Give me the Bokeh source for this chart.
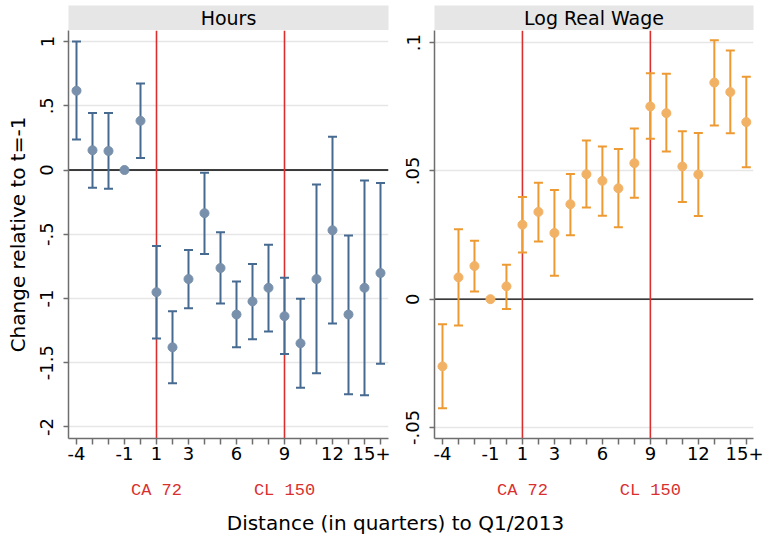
import math
from bokeh.plotting import figure
from bokeh.layouts import column, row
from bokeh.models import FixedTicker, Span, Label, LinearAxis, Range1d, ColumnDataSource
from bokeh.embed import file_html
from bokeh.resources import INLINE

nan = float("nan")

# Event-study coefficients by quarter relative to Q1/2013 (t = -1 is the omitted base)
quarters = list(range(-4, 16))

hours_est = [0.617, 0.154, 0.148, 0.0, 0.383, -0.951, -1.380, -0.849, -0.336, -0.763,
             -1.125, -1.023, -0.917, -1.138, -1.349, -0.849, -0.469, -1.125, -0.917, -0.802]
hours_lo = [0.237, -0.138, -0.146, nan, 0.094, -1.312, -1.659, -1.076, -0.654, -1.039,
            -1.380, -1.318, -1.258, -1.432, -1.695, -1.583, -1.195, -1.745, -1.753, -1.508]
hours_hi = [1.000, 0.443, 0.443, nan, 0.674, -0.591, -1.099, -0.623, -0.021, -0.484,
            -0.867, -0.732, -0.581, -0.839, -1.003, -0.112, 0.258, -0.510, -0.081, -0.102]

wage_est = [-0.0262, 0.0085, 0.0129, 0.0, 0.0050, 0.0290, 0.0340, 0.0258, 0.0370, 0.0487,
            0.0461, 0.0432, 0.0530, 0.0751, 0.0725, 0.0517, 0.0486, 0.0844, 0.0807, 0.0690]
wage_lo = [-0.0425, -0.0103, 0.0030, nan, -0.0038, 0.0182, 0.0225, 0.0091, 0.0249, 0.0357,
           0.0325, 0.0280, 0.0395, 0.0625, 0.0575, 0.0379, 0.0324, 0.0677, 0.0647, 0.0514]
wage_hi = [-0.0098, 0.0272, 0.0228, nan, 0.0134, 0.0398, 0.0454, 0.0425, 0.0488, 0.0618,
           0.0595, 0.0585, 0.0665, 0.0880, 0.0878, 0.0654, 0.0648, 0.1009, 0.0969, 0.0867]

# x-axis tick labels (every quarter gets a tick, only some are labelled)
x_labels = {-4: "-4", -1: "-1", 1: "1", 3: "3", 6: "6", 9: "9", 12: "12", 15: "15+"}

# policy events marked with vertical lines
events = [1, 9]
event_labels = ["CA 72", "CL 150"]

hours_ticks = [-2, -1.5, -1, -0.5, 0, 0.5, 1]
hours_tick_labels = ["-2", "-1.5", "-1", "-.5", "0", ".5", "1"]
wage_ticks = [-0.05, 0, 0.05, 0.1]
wage_tick_labels = ["-.05", "0", ".05", ".1"]

FONT = "DejaVu Sans"
AXIS_GRAY = "#6e6e6e"
RED = "#d9302f"


def strip(title, width, left, right):
    s = figure(width=width, height=30, x_range=Range1d(0, 1), y_range=Range1d(0, 1),
               x_axis_location=None, y_axis_location=None, toolbar_location=None,
               output_backend="svg", min_border_left=left, min_border_right=right,
               min_border_top=5, min_border_bottom=0)
    s.background_fill_color = "#e6e6e6"
    s.border_fill_color = "white"
    s.outline_line_color = None
    s.grid.visible = False
    s.add_layout(Label(x=0.5, y=0.5, text=title, text_align="center",
                       text_baseline="middle", text_font=FONT, text_font_size="19px",
                       text_color="black"))
    return s


def panel(est, lo, hi, yr, yticks, ylabels, xr, width, left, right,
          dot_color, bar_color, ylabel=None):
    p = figure(width=width, height=475, x_range=xr, y_range=yr, toolbar_location=None,
               output_backend="svg", min_border_left=left, min_border_right=right,
               min_border_top=0, min_border_bottom=67)
    p.outline_line_color = None
    p.background_fill_color = "white"
    p.border_fill_color = "white"
    p.xgrid.visible = False
    p.ygrid.ticker = FixedTicker(ticks=yticks)
    p.ygrid.grid_line_color = "#e6e6e6"
    p.ygrid.grid_line_width = 1.5

    # y axis
    ya = p.yaxis[0]
    ya.ticker = FixedTicker(ticks=yticks)
    ya.major_label_overrides = {t: l for t, l in zip(yticks, ylabels)}
    ya.major_label_orientation = "vertical"
    ya.major_label_text_font = FONT
    ya.major_label_text_font_size = "18px"
    ya.major_label_text_color = "black"
    ya.major_label_standoff = 10
    ya.axis_line_color = AXIS_GRAY
    ya.axis_line_width = 1.5
    ya.major_tick_line_color = AXIS_GRAY
    ya.major_tick_line_width = 1.5
    ya.major_tick_in = 0
    ya.major_tick_out = 5
    ya.minor_tick_line_color = None
    if ylabel:
        ya.axis_label = ylabel
        ya.axis_label_text_font = FONT
        ya.axis_label_text_font_size = "20px"
        ya.axis_label_text_font_style = "normal"
        ya.axis_label_text_color = "black"
        ya.axis_label_standoff = 8

    # x axis: a tick for every quarter
    xa = p.xaxis[0]
    xa.ticker = FixedTicker(ticks=quarters)
    xa.major_label_overrides = {q: x_labels.get(q, "") for q in quarters}
    xa.major_label_text_font = FONT
    xa.major_label_text_font_size = "18px"
    xa.major_label_text_color = "black"
    xa.major_label_standoff = 2
    xa.axis_line_color = AXIS_GRAY
    xa.axis_line_width = 1.5
    xa.major_tick_line_color = AXIS_GRAY
    xa.major_tick_line_width = 1.5
    xa.major_tick_in = 0
    xa.major_tick_out = 6
    xa.minor_tick_line_color = None

    # event names under the axis
    ea = LinearAxis(ticker=FixedTicker(ticks=events),
                    major_label_overrides={e: l for e, l in zip(events, event_labels)})
    ea.axis_line_color = None
    ea.major_tick_line_color = None
    ea.minor_tick_line_color = None
    ea.major_label_text_font = "Liberation Mono"
    ea.major_label_text_font_size = "17px"
    ea.major_label_text_color = RED
    ea.major_label_standoff = 12
    p.add_layout(ea, "below")

    # reference lines
    p.add_layout(Span(location=0, dimension="width", line_color="black", line_width=1.3,
                      level="underlay"))
    for e in events:
        p.add_layout(Span(location=e, dimension="height", line_color=RED, line_width=1.6,
                          level="underlay"))

    src = ColumnDataSource(dict(x=quarters, est=est, lo=lo, hi=hi))
    p.segment(x0="x", y0="lo", x1="x", y1="hi", source=src, line_color=bar_color,
              line_width=2)
    p.scatter(x="x", y="hi", source=src, marker="dash", size=9, line_color=bar_color,
              line_width=2)
    p.scatter(x="x", y="lo", source=src, marker="dash", size=9, line_color=bar_color,
              line_width=2)
    p.scatter(x="x", y="est", source=src, marker="circle", size=9, fill_color=dot_color,
              line_color=dot_color)
    return p


left_main = panel(hours_est, hours_lo, hours_hi, Range1d(-2.09, 1.086), hours_ticks,
                  hours_tick_labels, Range1d(-4.5, 15.5), 390, 68, 2,
                  "#7890ab", "#466a90", ylabel="Change relative to t=-1")
right_main = panel(wage_est, wage_lo, wage_hi, Range1d(-0.0543, 0.1047), wage_ticks,
                   wage_tick_labels, Range1d(-4.5, 15.45), 373, 44, 10,
                   "#f2b266", "#ee9a33")

left_strip = strip("Hours", 390, 68, 2)
right_strip = strip("Log Real Wage", 373, 44, 10)

# shared x-axis title
bottom = figure(width=763, height=30, x_range=Range1d(0, 763), y_range=Range1d(0, 30),
                x_axis_location=None, y_axis_location=None, toolbar_location=None,
                output_backend="svg", min_border=0)
bottom.outline_line_color = None
bottom.grid.visible = False
bottom.add_layout(Label(x=395, y=13, x_units="screen", y_units="screen",
                        text="Distance (in quarters) to Q1/2013", text_align="center",
                        text_baseline="middle", text_font=FONT, text_font_size="20px",
                        text_color="black"))

layout = column(row(left_strip, right_strip), row(left_main, right_main), bottom)

open("out.html", "w").write(file_html(layout, INLINE))
